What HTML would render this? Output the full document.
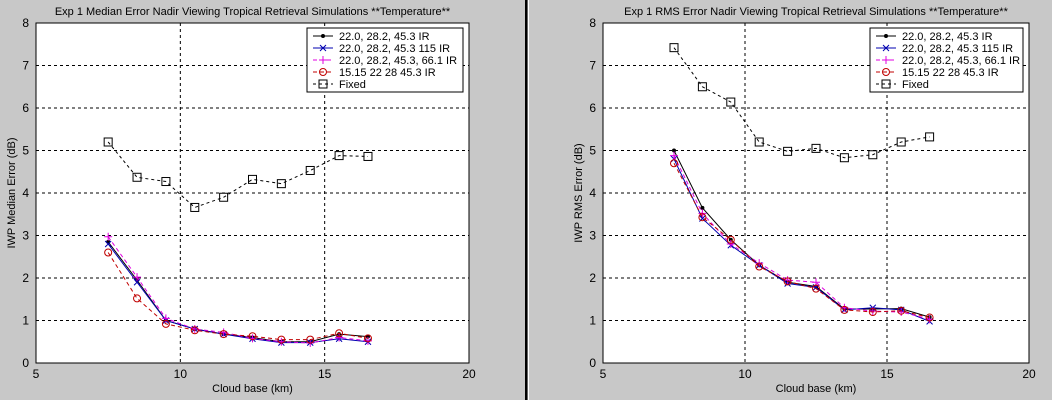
<!DOCTYPE html>
<html><head><meta charset="utf-8"><style>
body{margin:0;background:#c8c8c8;width:1052px;height:400px;overflow:hidden}
svg{display:block;font-family:"Liberation Sans",sans-serif}
</style></head><body>
<svg id="s" width="1052" height="400">
<rect x="525" y="0" width="2.5" height="400" fill="#000"/>
<rect x="528" y="0" width="1" height="400" fill="#fff"/>
</svg>
<script>
const xCats=[7.5,8.5,9.5,10.5,11.5,12.5,13.5,14.5,15.5,16.5];
const xTicks=[5,10,15,20];
const yTicks=[0,1,2,3,4,5,6,7,8];
const legendLabels=["22.0, 28.2, 45.3 IR","22.0, 28.2, 45.3 115 IR","22.0, 28.2, 45.3, 66.1 IR","15.15 22 28 45.3 IR","Fixed"];
const medBlack=[2.85,1.95,1.0,0.8,0.68,0.6,0.5,0.5,0.68,0.62];
const medBlue=[2.8,1.9,1.0,0.8,0.68,0.57,0.48,0.48,0.57,0.5];
const medMagenta=[2.97,2.02,1.05,0.8,0.72,0.58,0.5,0.47,0.6,0.52];
const medRed=[2.6,1.52,0.92,0.77,0.68,0.63,0.55,0.55,0.7,0.58];
const medFixed=[5.2,4.37,4.27,3.66,3.9,4.32,4.22,4.53,4.88,4.86];
const rmsBlack=[5.0,3.65,2.9,2.3,1.9,1.8,1.27,1.27,1.28,1.08];
const rmsBlue=[4.8,3.4,2.77,2.3,1.87,1.78,1.25,1.3,1.25,0.98];
const rmsMagenta=[4.88,3.52,2.8,2.35,1.95,1.9,1.3,1.22,1.2,1.03];
const rmsRed=[4.7,3.43,2.9,2.27,1.92,1.75,1.25,1.2,1.23,1.07];
const rmsFixed=[7.42,6.5,6.14,5.2,4.98,5.05,4.83,4.9,5.2,5.32];

const NS="http://www.w3.org/2000/svg";
const svg=document.getElementById('s');
function mk(t,a,p){const e=document.createElementNS(NS,t);for(const k in a)e.setAttribute(k,a[k]);(p||svg).appendChild(e);return e;}
const styles=[
 {c:"#000",dash:"",m:"dot"},
 {c:"#0000b0",dash:"",m:"x"},
 {c:"#e000e0",dash:"4,3",m:"plus"},
 {c:"#c00000",dash:"4,3",m:"circle"},
 {c:"#000",dash:"3,3",m:"square"}];
function marker(g,type,x,y,c){
 let e;
 if(type==="dot")e=mk('circle',{cx:x,cy:y,r:2,fill:c},g);
 else if(type==="x")e=mk('path',{d:`M${x-3} ${y-3}L${x+3} ${y+3}M${x-3} ${y+3}L${x+3} ${y-3}`,stroke:c,fill:"none"},g);
 else if(type==="plus")e=mk('path',{d:`M${x-4} ${y}L${x+4} ${y}M${x} ${y-4}L${x} ${y+4}`,stroke:c,fill:"none"},g);
 else if(type==="circle")e=mk('circle',{cx:x,cy:y,r:3.5,fill:"none",stroke:c},g);
 else e=mk('rect',{x:x-4,y:y-4,width:8,height:8,fill:"none",stroke:c},g);
 
 
}
function panel(x0,x1,title,ylab,series,lx0,lx1,pname){
 const y0=23,y1=363;
 const g=mk('g',{});
 
 
 const sx=v=>x0+(v-5)/15*(x1-x0), sy=v=>y1-v/8*(y1-y0);
 const bg=mk('rect',{x:x0,y:y0,width:x1-x0,height:y1-y0,fill:"#fff"},g);
 
 
 xTicks.forEach(t=>{const x=sx(t);
  if(t>5&&t<20){const l=mk('line',{x1:x,x2:x,y1:y0,y2:y1,stroke:"#000","stroke-dasharray":"3,3"},g);}
  const tx=mk('text',{x:x,y:y1+15,"text-anchor":"middle","font-size":12},g);tx.textContent=t;
  });
 yTicks.forEach(t=>{const y=sy(t);
  if(t>0&&t<8){const l=mk('line',{x1:x0,x2:x1,y1:y,y2:y,stroke:"#000","stroke-dasharray":"3,3"},g);}
  const tx=mk('text',{x:x0-7,y:y+4,"text-anchor":"end","font-size":12},g);tx.textContent=t;
  });
 const fr=mk('rect',{x:x0,y:y0,width:x1-x0,height:y1-y0,fill:"none",stroke:"#000"},g);
 
 series.forEach((d,i)=>{const st=styles[i];
  const p=mk('polyline',{points:d.map((v,j)=>sx(xCats[j])+","+sy(v)).join(" "),fill:"none",stroke:st.c,"stroke-dasharray":st.dash},g);
  
  d.forEach((v,j)=>marker(g,st.m,sx(xCats[j]),sy(v),st.c));});
 const t=mk('text',{x:(x0+x1)/2,y:15,"text-anchor":"middle","font-size":11},g);t.textContent=title;
 
 const xl=mk('text',{x:(x0+x1)/2,y:392,"text-anchor":"middle","font-size":11},g);xl.textContent="Cloud base (km)";
 
 const yl=mk('text',{x:0,y:0,"text-anchor":"middle","font-size":11,transform:`translate(${x0-21},${(y0+y1)/2}) rotate(-90)`},g);yl.textContent=ylab;
 
 const lg=mk('g',{},g);
 mk('rect',{x:lx0,y:28,width:lx1-lx0,height:64,fill:"#fff",stroke:"#000"},lg);
 legendLabels.forEach((lab,i)=>{const y=36+i*12,st=styles[i];
  const e=mk('g',{},lg);
  mk('line',{x1:lx0+6,x2:lx0+26,y1:y,y2:y,stroke:st.c,"stroke-dasharray":st.dash},e);
  marker(e,st.m,lx0+16,y,st.c);
  const tx=mk('text',{x:lx0+32,y:y+4,"font-size":11},e);tx.textContent=lab;});
}
panel(36,469,"Exp 1 Median Error Nadir Viewing Tropical Retrieval Simulations **Temperature**","IWP Median Error (dB)",[medBlack,medBlue,medMagenta,medRed,medFixed],307,463,"median-error-panel");
panel(603,1029,"Exp 1 RMS Error Nadir Viewing Tropical Retrieval Simulations **Temperature**","IWP RMS Error (dB)",[rmsBlack,rmsBlue,rmsMagenta,rmsRed,rmsFixed],870,1023,"rms-error-panel");
</script>
</body></html>
